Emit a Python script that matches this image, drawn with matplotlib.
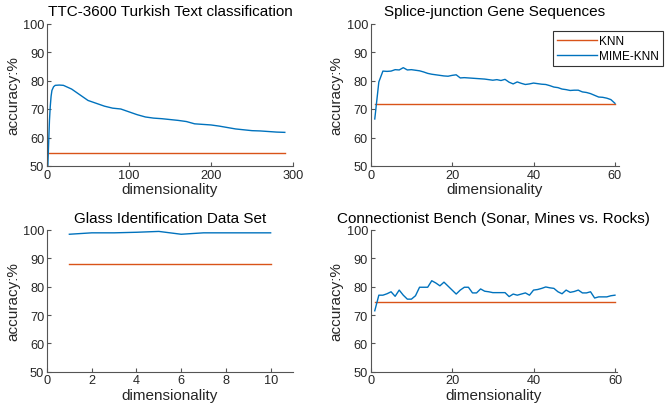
import matplotlib.pyplot as plt
import numpy as np

plt.rcParams['font.family'] = ['Liberation Sans', 'DejaVu Sans']

BLUE = '#0072BD'
ORANGE = '#D95319'
GREY = '#262626'

# TTC-3600 Turkish Text classification
ttc_x = [1, 2, 3, 4, 5, 6, 8, 10, 15, 20, 30, 40, 50, 60, 70, 80, 90, 100,
         110, 120, 130, 140, 150, 160, 170, 180, 190, 200, 210, 220, 230,
         240, 250, 260, 270, 280, 290]
ttc_mime = [50, 58, 66, 71, 74.5, 76.5, 77.8, 78.3, 78.4, 78.3, 77.0, 75.0,
            73.0, 72.0, 71.0, 70.3, 70.0, 69.0, 68.0, 67.2, 66.8, 66.6, 66.3,
            66.0, 65.6, 64.8, 64.6, 64.4, 64.0, 63.5, 63.0, 62.7, 62.4, 62.3,
            62.1, 61.9, 61.8]
ttc_knn = 54.5

# Splice-junction Gene Sequences
splice_x = list(range(1, 61))
splice_mime = [66.5, 79.5, 83.3, 83.2, 83.3, 83.8, 83.7, 84.5, 83.7, 83.8,
               83.6, 83.4, 83.0, 82.5, 82.2, 82.0, 81.8, 81.6, 81.5, 81.8,
               82.0, 80.9, 81.0, 80.9, 80.8, 80.7, 80.6, 80.5, 80.3, 80.1,
               80.3, 80.0, 80.4, 79.4, 78.8, 79.5, 79.0, 78.6, 78.8, 79.1,
               78.9, 78.7, 78.6, 78.2, 77.7, 77.5, 77.0, 76.8, 76.5, 76.6,
               76.6, 76.0, 75.8, 75.4, 74.8, 74.2, 74.1, 73.8, 73.3, 72.0]
splice_knn = 71.9

# Glass Identification Data Set
glass_x = list(range(1, 11))
glass_mime = [98.5, 99.0, 99.0, 99.2, 99.5, 98.5, 99.0, 99.0, 99.0, 99.0]
glass_knn = 88.0

# Connectionist Bench (Sonar, Mines vs. Rocks)
sonar_x = list(range(1, 61))
sonar_mime = [71.5, 77.0, 77.0, 77.5, 78.2, 76.6, 78.8, 77.0, 75.6, 75.6,
              76.8, 79.8, 79.8, 79.8, 82.1, 81.3, 80.3, 81.6, 80.2, 78.8,
              77.4, 78.8, 79.8, 79.8, 77.8, 77.8, 79.2, 78.4, 78.2, 77.9,
              77.9, 77.9, 77.9, 76.5, 77.4, 77.0, 77.4, 77.8, 77.0, 78.8,
              79.0, 79.4, 79.9, 79.6, 79.4, 78.2, 77.5, 78.8, 78.0, 78.3,
              78.8, 77.8, 77.8, 78.2, 76.0, 76.4, 76.4, 76.4, 76.8, 77.0]
sonar_knn = 74.5

panels = [
    ('TTC-3600 Turkish Text classification', ttc_x, ttc_mime, ttc_knn,
     [47, 24.5, 293, 167], (0, 300), [0, 100, 200, 300]),
    ('Splice-junction Gene Sequences', splice_x, splice_mime, splice_knn,
     [370.7, 24.5, 619, 167], (0, 61), [0, 20, 40, 60]),
    ('Glass Identification Data Set', glass_x, glass_mime, glass_knn,
     [47, 231, 293, 372.7], (0, 11), [0, 2, 4, 6, 8, 10]),
    ('Connectionist Bench (Sonar, Mines vs. Rocks)', sonar_x, sonar_mime, sonar_knn,
     [370.7, 231, 617, 372.7], (0, 60.5), [0, 20, 40, 60]),
]

W, H = 668, 414
fig = plt.figure(figsize=(W / 100, H / 100), dpi=100)

for i, (title, x, mime, knn, box, xlim, xticks) in enumerate(panels):
    l, t, r, b = box
    ax = fig.add_axes([l / W, 1 - b / H, (r - l) / W, (b - t) / H])
    knn_line, = ax.plot([x[0], x[-1]], [knn, knn], color=ORANGE, lw=1.0, label='KNN')
    mime_line, = ax.plot(x, mime, color=BLUE, lw=1.0, label='MIME-KNN')
    ax.set_xlim(*xlim)
    ax.set_ylim(50, 100)
    ax.set_xticks(xticks)
    ax.set_yticks([50, 60, 70, 80, 90, 100])
    for s in ['top', 'right']:
        ax.spines[s].set_visible(False)
    for s in ['left', 'bottom']:
        ax.spines[s].set_color('#555555')
        ax.spines[s].set_linewidth(0.8)
    ax.tick_params(direction='in', length=3, width=0.8, color='#555555',
                   labelsize=9.2, labelcolor=GREY, pad=2)
    ax.set_title(title, fontsize=11, color='black', pad=6)
    ax.set_xlabel('dimensionality', fontsize=11, color=GREY, labelpad=1)
    ax.set_ylabel('accuracy:%', fontsize=11, color=GREY, labelpad=2)
    if i == 1:
        leg = ax.legend([knn_line, mime_line], ['KNN', 'MIME-KNN'],
                        loc='upper left', bbox_to_anchor=(0.734, 0.95),
                        borderaxespad=0, fontsize=8.5, handlelength=3.4,
                        handletextpad=0.15, borderpad=0.35, labelspacing=0.25,
                        fancybox=False, framealpha=1, edgecolor='#333333')
        leg.get_frame().set_linewidth(0.8)

fig.savefig('out.png', dpi=100)
